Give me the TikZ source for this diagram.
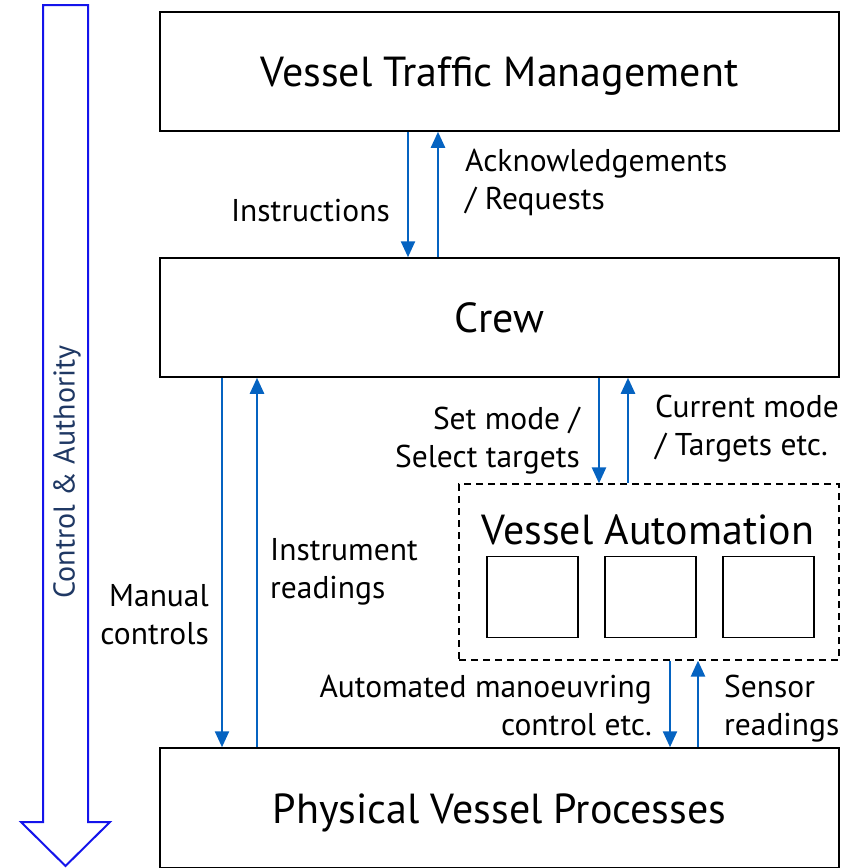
\documentclass[tikz,border=0pt]{standalone}
\usepackage{fontspec}
\setmainfont{PT Sans}
\usetikzlibrary{arrows.meta}
\definecolor{flowblue}{RGB}{5,99,193}
\definecolor{bigblue}{RGB}{20,20,235}
\definecolor{navy}{RGB}{31,56,100}
\begin{document}
\begin{tikzpicture}[x=1pt,y=-1pt,
  box/.style={draw=black, line width=1.5pt, inner sep=0pt, text height=38pt, text depth=8pt, font=\fontsize{42}{50}\selectfont},
  sub/.style={draw=black, line width=1.3pt, inner sep=0pt, minimum width=91pt, minimum height=81pt},
  dbox/.style={draw=black, line width=1.2pt, dash pattern=on 7pt off 5pt, inner sep=0pt},
  flow/.style={draw=flowblue, line width=2.4pt, -{Triangle[length=16pt,width=14pt]}},
  lbl/.style={inner sep=0pt, font=\fontsize{31.5}{38.5}\selectfont},
]
\useasboundingbox (0,0) rectangle (859,868);
% big control arrow
\draw[bigblue, line width=2pt, fill=white, line join=miter]
  (43,5) -- (88,5) -- (88,822) -- (110,822) -- (65.5,866) -- (21,822) -- (43,822) -- cycle;
\node[rotate=90, inner sep=0pt, text=navy, font=\fontsize{30}{36}\selectfont] (ca) at (67,472)
  {Control \& Authority};
% boxes
\node[box, minimum width=679pt, minimum height=119pt] (vtm) at (499.5,71.5) {Vessel Traffic Management};
\node[box, minimum width=679pt, minimum height=119pt] (crew) at (499.5,317.5) {Crew};
\node[box, minimum width=679pt, minimum height=120pt] (pvp) at (499.5,808) {Physical Vessel Processes};
\node[dbox, minimum width=380pt, minimum height=176pt] (va) at (649,572) {};
\node[inner sep=0pt, font=\fontsize{42}{50}\selectfont] (vat) at (648,530) {Vessel Automation};
\node[sub] (s1) at (532.5,597) {};
\node[sub] (s2) at (650.5,597) {};
\node[sub] (s3) at (768.5,597) {};
% flows VTM <-> Crew
\draw[flow] ([xshift=-91.5pt]vtm.south) -- ([xshift=-91.5pt]crew.north);
\draw[flow] ([xshift=-61.5pt]crew.north) -- ([xshift=-61.5pt]vtm.south);
\node[lbl, anchor=base east] (l1) at (390,221) {Instructions};
\node[lbl, anchor=base west] (l2) at (465,171) {\begin{tabular}[t]{@{}l@{}}Acknowledgements\\/ Requests\end{tabular}};
% flows Crew <-> PVP
\draw[flow] ([xshift=-277.5pt]crew.south) -- ([xshift=-277.5pt]pvp.north);
\draw[flow] ([xshift=-242.5pt]pvp.north) -- ([xshift=-242.5pt]crew.south);
\node[lbl, anchor=base east] (l3) at (209,606) {\begin{tabular}[t]{@{}r@{}}Manual\\controls\end{tabular}};
\node[lbl, anchor=base west] (l4) at (270,560) {\begin{tabular}[t]{@{}l@{}}Instrument\\readings\end{tabular}};
% flows Crew <-> VA
\draw[flow] (crew.south -| 599,0) -- (va.north -| 599,0);
\draw[flow] (va.north -| 628,0) -- (crew.south -| 628,0);
\node[lbl, anchor=base east] (l5) at (580,429) {\begin{tabular}[t]{@{}r@{}}Set mode /\\Select targets\end{tabular}};
\node[lbl, anchor=base west] (l6) at (655,417) {\begin{tabular}[t]{@{}l@{}}Current mode\\/ Targets etc.\end{tabular}};
% flows VA <-> PVP
\draw[flow] (va.south -| 670,0) -- (pvp.north -| 670,0);
\draw[flow] (pvp.north -| 698,0) -- (va.south -| 698,0);
\node[lbl, anchor=base east] (l7) at (652,697) {\begin{tabular}[t]{@{}r@{}}Automated manoeuvring\\control etc.\end{tabular}};
\node[lbl, anchor=base west] (l8) at (724,697) {\begin{tabular}[t]{@{}l@{}}Sensor\\readings\end{tabular}};
\end{tikzpicture}
\end{document}
